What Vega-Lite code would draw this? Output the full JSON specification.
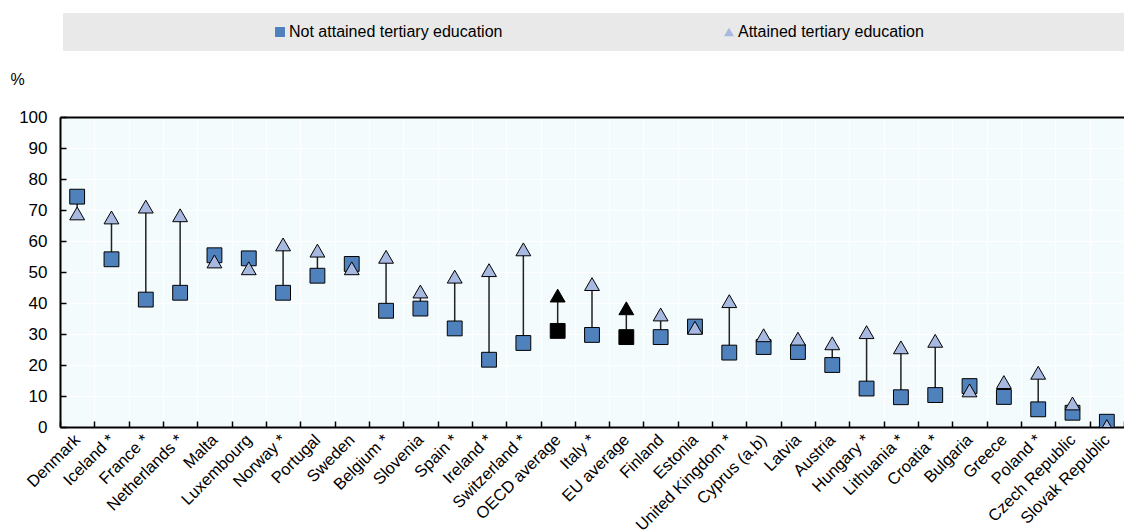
{
  "$schema": "https://vega.github.io/schema/vega-lite/v6.json",
  "width": 1064,
  "height": 310,
  "padding": {"left": 10, "top": 13, "right": 0, "bottom": 0},
  "autosize": {"type": "pad"},
  "background": "white",
  "config": {
    "view": {"fill": "#F4FBFD", "stroke": null},
    "font": "Liberation Sans",
    "axis": {"labelColor": "#000", "labelFont": "Liberation Sans", "domainColor": "#000", "tickColor": "#000", "gridColor": "#FFFFFF", "gridWidth": 1},
    "axisY": {"labelOverlap": false, "tickCount": 11},
    "legend": {
      "orient": "none", "legendX": 3, "legendY": -104, "direction": "horizontal",
      "fillColor": "#E9E9E9", "padding": 11,
      "labelFont": "Liberation Sans", "labelFontSize": 16, "labelColor": "#000", "labelLimit": 1000,
      "symbolSize": 100, "symbolStrokeColor": "black", "symbolStrokeWidth": 1, "symbolOpacity": 1,
      "symbolOffset": 198, "labelOffset": 1, "columnPadding": 20
    }
  },
  "data": {
    "values": [
      {"country": "Denmark", "not": 74.3, "att": 68.9},
      {"country": "Iceland *", "not": 54.1, "att": 67.6},
      {"country": "France *", "not": 41.1, "att": 71.1},
      {"country": "Netherlands *", "not": 43.3, "att": 68.3},
      {"country": "Malta", "not": 55.4, "att": 53.4},
      {"country": "Luxembourg", "not": 54.4, "att": 51.2},
      {"country": "Norway *", "not": 43.3, "att": 58.9},
      {"country": "Portugal", "not": 48.8, "att": 56.9},
      {"country": "Sweden", "not": 52.6, "att": 51.2},
      {"country": "Belgium *", "not": 37.5, "att": 54.9},
      {"country": "Slovenia", "not": 38.2, "att": 43.7},
      {"country": "Spain *", "not": 31.8, "att": 48.5},
      {"country": "Ireland *", "not": 21.7, "att": 50.6},
      {"country": "Switzerland *", "not": 27.1, "att": 57.3},
      {"country": "OECD average", "not": 31.0, "att": 42.4},
      {"country": "Italy *", "not": 29.7, "att": 46.1},
      {"country": "EU average", "not": 29.0, "att": 38.3},
      {"country": "Finland", "not": 29.0, "att": 36.3},
      {"country": "Estonia", "not": 32.4, "att": 32.0},
      {"country": "United Kingdom *", "not": 24.0, "att": 40.6},
      {"country": "Cyprus (a,b)", "not": 25.8, "att": 29.6},
      {"country": "Latvia", "not": 24.2, "att": 28.5},
      {"country": "Austria", "not": 20.0, "att": 27.0},
      {"country": "Hungary *", "not": 12.4, "att": 30.6},
      {"country": "Lithuania *", "not": 9.6, "att": 25.7},
      {"country": "Croatia *", "not": 10.3, "att": 27.8},
      {"country": "Bulgaria", "not": 13.2, "att": 11.8},
      {"country": "Greece", "not": 9.7, "att": 14.5},
      {"country": "Poland *", "not": 5.7, "att": 17.5},
      {"country": "Czech Republic", "not": 4.6, "att": 7.6},
      {"country": "Slovak Republic", "not": 1.7, "att": 0.3}
    ]
  },
  "layer": [
    {
      "mark": {"type": "rule", "color": "#222222", "strokeWidth": 1.5},
      "encoding": {
        "x": {
          "field": "country", "type": "nominal", "sort": null,
          "scale": {"type": "band", "paddingInner": 0, "paddingOuter": -0.2126, "align": 0},
          "axis": {
            "title": null, "labelAngle": -45, "labelAlign": "right", "labelBaseline": "middle",
            "labelFontSize": 16.5, "labelPadding": 16, "tickBand": "extent", "tickSize": -6, "tickWidth": 1.5,
            "domainWidth": 2, "grid": true, "labelOverlap": false
          }
        },
        "y": {
          "field": "not", "type": "quantitative",
          "scale": {"domain": [0, 100], "nice": false},
          "axis": {
            "values": [0, 10, 20, 30, 40, 50, 60, 70, 80, 90, 100], "labelOverlap": false, "tickCount": 11,
            "labelFontSize": 17, "labelPadding": 19, "tickSize": -6, "tickWidth": 1.5,
            "domainWidth": 2, "grid": true,
            "title": "%", "titleAngle": 0, "titleX": -50, "titleY": -38, "titleAlign": "left",
            "titleBaseline": "middle", "titleFontWeight": "normal", "titleFontSize": 16, "titleFont": "Liberation Sans"
          }
        },
        "y2": {"field": "att"}
      }
    },
    {
      "transform": [{"fold": ["not", "att"], "as": ["series", "value"]}],
      "mark": {"type": "point", "filled": true, "opacity": 1, "stroke": "black", "strokeWidth": 1, "clip": true, "size": 220},
      "encoding": {
        "x": {
          "field": "country", "type": "nominal", "sort": null,
          "axis": {"orient": "top", "labels": false, "ticks": false, "grid": false, "domainWidth": 2, "title": null}
        },
        "y": {
          "field": "value", "type": "quantitative",
          "axis": {
            "values": [0, 10, 20, 30, 40, 50, 60, 70, 80, 90, 100], "labelOverlap": false, "tickCount": 11,
            "labelFontSize": 17, "labelPadding": 19, "tickSize": -6, "tickWidth": 1.5,
            "domainWidth": 2, "grid": true,
            "title": "%", "titleAngle": 0, "titleX": -50, "titleY": -38, "titleAlign": "left",
            "titleBaseline": "middle", "titleFontWeight": "normal", "titleFontSize": 16, "titleFont": "Liberation Sans"
          }
        },
        "shape": {
          "field": "series", "type": "nominal",
          "scale": {"domain": ["not", "att"], "range": ["square", "triangle-up"]},
          "legend": {
            "title": null,
            "labelExpr": "datum.value == 'not' ? 'Not attained tertiary education' : pad('Attained tertiary education', 71, '\u00a0') + '\u200b'"
          }
        },
        "fill": {
          "condition": {"test": "indexof(datum.country, 'average') >= 0", "value": "black"},
          "field": "series", "type": "nominal",
          "scale": {"domain": ["not", "att"], "range": ["#4F81BD", "#A7B8E1"]},
          "legend": {
            "title": null,
            "labelExpr": "datum.value == 'not' ? 'Not attained tertiary education' : pad('Attained tertiary education', 71, '\u00a0') + '\u200b'"
          }
        }
      }
    }
  ],
  "resolve": {"axis": {"x": "independent"}}
}
